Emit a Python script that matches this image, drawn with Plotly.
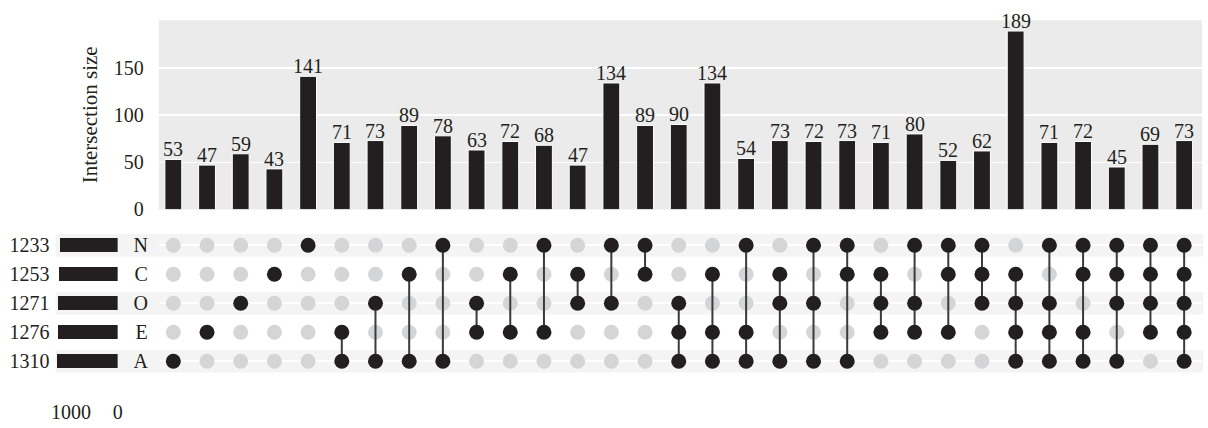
import plotly.graph_objects as go

# ---------------- data ----------------
set_names = ["N", "C", "O", "E", "A"]          # top to bottom in the matrix
set_sizes = [1233, 1253, 1271, 1276, 1310]

intersection_sizes = [53, 47, 59, 43, 141, 71, 73, 89, 78, 63, 72, 68, 47, 134, 89, 90,
                      134, 54, 73, 72, 73, 71, 80, 52, 62, 189, 71, 72, 45, 69, 73]

intersection_members = [
    ["A"], ["E"], ["O"], ["C"], ["N"],
    ["E", "A"], ["O", "A"], ["C", "A"], ["N", "A"], ["O", "E"], ["C", "E"], ["N", "E"],
    ["C", "O"], ["N", "O"], ["N", "C"],
    ["O", "E", "A"], ["C", "E", "A"], ["N", "E", "A"], ["C", "O", "A"], ["N", "O", "A"],
    ["N", "C", "A"], ["C", "O", "E"], ["N", "O", "E"], ["N", "C", "E"], ["N", "C", "O"],
    ["C", "O", "E", "A"], ["N", "O", "E", "A"], ["N", "C", "E", "A"], ["N", "C", "O", "A"],
    ["N", "C", "O", "E"], ["N", "C", "O", "E", "A"],
]

yticks_bar = [0, 50, 100, 150]
xticks_sets = [1000, 0]

# ---------------- style ----------------
W, H = 1208, 428
FONT = "Liberation Serif"
FS = 20
INK = "#231F20"
BG = "#EBEBEB"
STRIPE = "#F4F4F4"
DOT_OFF = "#D4D5D7"

def px_x(p):
    return min(1.0, max(0.0, p / W))

def px_y(p):
    return min(1.0, max(0.0, 1 - p / H))

row_order = set_names[::-1]          # bottom -> top on the categorical axis
row_index = {s: i for i, s in enumerate(row_order)}
cols = list(range(len(intersection_sizes)))

fig = go.Figure()

# intersection-size bars
fig.add_trace(go.Bar(
    x=cols, y=intersection_sizes, width=0.5,
    marker=dict(color=INK, line=dict(color="white", width=1)),
    xaxis="x", yaxis="y", hoverinfo="skip", showlegend=False,
))

# matrix: inactive dots
off_x, off_y = [], []
for c, mem in zip(cols, intersection_members):
    for s in set_names:
        if s not in mem:
            off_x.append(c)
            off_y.append(s)
fig.add_trace(go.Scatter(
    x=off_x, y=off_y, mode="markers",
    marker=dict(size=15, color=DOT_OFF),
    xaxis="x2", yaxis="y2", hoverinfo="skip", showlegend=False,
))

# matrix: connecting lines
lx, ly = [], []
for c, mem in zip(cols, intersection_members):
    if len(mem) > 1:
        idx = sorted(row_index[s] for s in mem)
        lx += [c, c, None]
        ly += [row_order[idx[0]], row_order[idx[-1]], None]
fig.add_trace(go.Scatter(
    x=lx, y=ly, mode="lines", line=dict(color="#3A3A3A", width=2),
    xaxis="x2", yaxis="y2", hoverinfo="skip", showlegend=False,
))

# matrix: active dots
on_x, on_y = [], []
for c, mem in zip(cols, intersection_members):
    for s in mem:
        on_x.append(c)
        on_y.append(s)
fig.add_trace(go.Scatter(
    x=on_x, y=on_y, mode="markers",
    marker=dict(size=15, color=INK),
    xaxis="x2", yaxis="y2", hoverinfo="skip", showlegend=False,
))

# set-size bars
fig.add_trace(go.Bar(
    x=set_sizes, y=set_names, orientation="h", width=0.47,
    marker=dict(color=INK, line=dict(width=0)),
    xaxis="x3", yaxis="y3", hoverinfo="skip", showlegend=False,
))

# bar value labels
annotations = [
    dict(x=c, y=v, xref="x", yref="y", text=str(v), showarrow=False,
         yanchor="bottom", yshift=-3, font=dict(family=FONT, size=FS, color=INK))
    for c, v in zip(cols, intersection_sizes)
]

# ---------------- layout ----------------
xdom = [px_x(156), px_x(1207)]
ydom_bar = [px_y(215), px_y(20.7)]
ydom_mat = [px_y(385.6), px_y(236.8)]
xrange_cols = [-0.43, len(cols) - 1 + 0.53]

shapes = [
    dict(type="rect", xref="x domain", yref="y domain", x0=0, x1=1, y0=0, y1=1,
         fillcolor=BG, line=dict(width=0), layer="below"),
]
for s in set_names[::2]:
    i = row_index[s]
    shapes.append(dict(
        type="rect", xref="paper", yref="y2 domain",
        x0=px_x(52), x1=1, y0=(i + 0.5 - 0.39) / 5, y1=(i + 0.5 + 0.39) / 5,
        fillcolor=STRIPE, line=dict(width=0), layer="below",
    ))

fig.update_layout(
    width=W, height=H,
    margin=dict(l=0, r=0, t=0, b=0),
    paper_bgcolor="white", plot_bgcolor="rgba(0,0,0,0)",
    font=dict(family=FONT, size=FS, color=INK),
    shapes=shapes,
    annotations=annotations,
    bargap=0,
    xaxis=dict(domain=xdom, range=xrange_cols, showgrid=False, zeroline=False,
               showticklabels=False, ticks="", anchor="y"),
    yaxis=dict(domain=ydom_bar, range=[0, 200.5], tickvals=yticks_bar,
               showgrid=True, gridcolor="white", gridwidth=1.5, zeroline=False,
               ticks="outside", ticklen=10, tickcolor="rgba(0,0,0,0)",
               title=dict(text="Intersection size", standoff=10,
                          font=dict(family=FONT, size=FS + 1, color=INK)),
               anchor="x"),
    xaxis2=dict(domain=xdom, range=xrange_cols, matches="x", showgrid=False,
                zeroline=False, showticklabels=False, ticks="", anchor="y2"),
    yaxis2=dict(domain=ydom_mat, type="category", categoryorder="array",
                categoryarray=row_order, range=[-0.5, 4.5],
                showgrid=True, gridcolor="white", gridwidth=2, zeroline=False,
                ticks="outside", ticklen=6, tickcolor="rgba(0,0,0,0)",
                anchor="x2"),
    xaxis3=dict(domain=[px_x(52), px_x(114.5)], range=[1330, 0],
                tickvals=xticks_sets, showgrid=False, zeroline=False,
                ticks="outside", ticklen=18, tickcolor="rgba(0,0,0,0)",
                anchor="y3"),
    yaxis3=dict(domain=ydom_mat, type="category", categoryorder="array",
                categoryarray=row_order, range=[-0.5, 4.5],
                tickvals=set_names, ticktext=[str(v) for v in set_sizes],
                showgrid=False, zeroline=False, ticks="outside", ticklen=1,
                tickcolor="rgba(0,0,0,0)", anchor="x3"),
)

fig.write_html("out.html",
               config={"displayModeBar": False, "staticPlot": True},
               post_script="document.body.style.margin='0';"
                           "document.body.style.overflow='hidden';")
